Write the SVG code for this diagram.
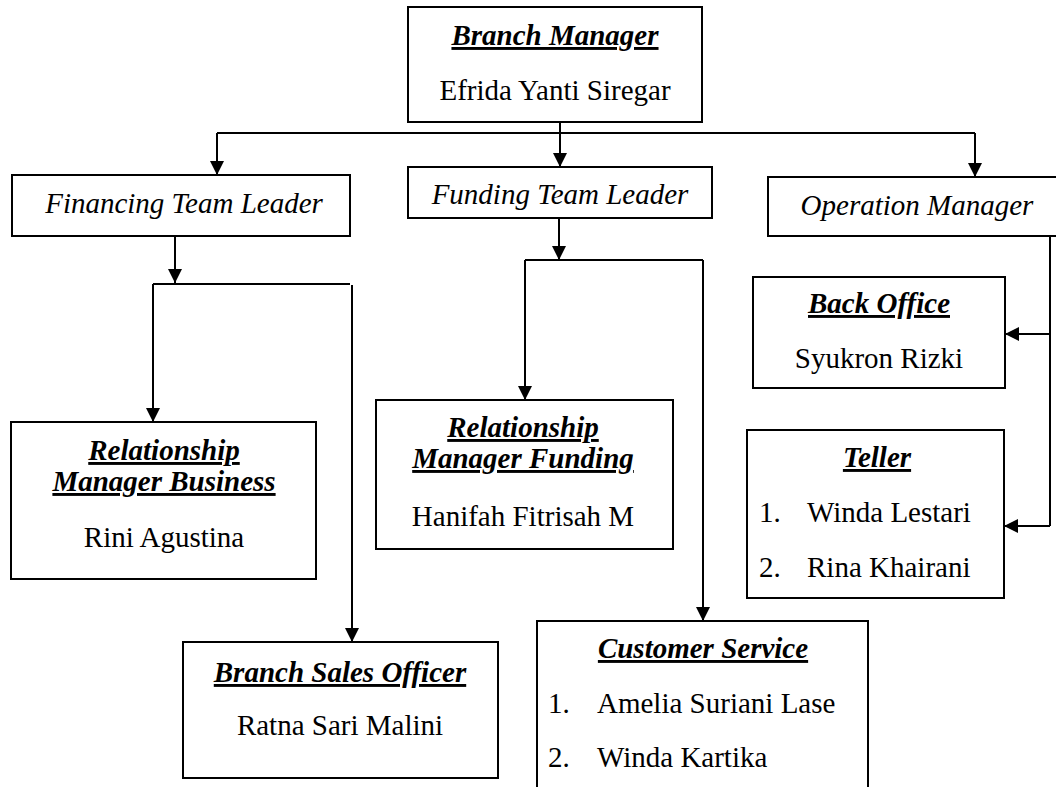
<svg xmlns="http://www.w3.org/2000/svg" width="1056" height="787" viewBox="0 0 1056 787">
<style>
.box{fill:#fff;stroke:#000;stroke-width:2}
text{font-family:"Liberation Serif","Times New Roman",serif;font-size:29px;fill:#000}
.c{text-anchor:middle}
.t{font-weight:bold;font-style:italic;text-decoration:underline}
.i{font-style:italic}
.ln{fill:none;stroke:#000;stroke-width:2}
</style>
<defs>
<marker id="ah" markerUnits="userSpaceOnUse" markerWidth="14" markerHeight="14" viewBox="0 0 14 14" refX="14" refY="7" orient="auto">
<path d="M0,0 L14,7 L0,14 Z" fill="#000"/>
</marker>
</defs>
<rect width="1056" height="787" fill="#fff"/>
<g id="connectors">
<path class="ln" d="M217,133 H975"/>
<path class="ln" d="M217,133 V175" marker-end="url(#ah)"/>
<path class="ln" d="M560,122 V167" marker-end="url(#ah)"/>
<path class="ln" d="M975,133 V177" marker-end="url(#ah)"/>
<path class="ln" d="M175,237 V283" marker-end="url(#ah)"/>
<path class="ln" d="M153,284 H350"/>
<path class="ln" d="M153,284 V422" marker-end="url(#ah)"/>
<path class="ln" d="M352,285 V642" marker-end="url(#ah)"/>
<path class="ln" d="M559,219 V260" marker-end="url(#ah)"/>
<path class="ln" d="M525,260 H703"/>
<path class="ln" d="M525,260 V400" marker-end="url(#ah)"/>
<path class="ln" d="M703,260 V621" marker-end="url(#ah)"/>
<path class="ln" d="M1050,237 V526"/>
<path class="ln" d="M1050,334 H1005" marker-end="url(#ah)"/>
<path class="ln" d="M1050,526 H1004" marker-end="url(#ah)"/>
</g>
<g id="branch-manager">
<rect class="box" x="408" y="7" width="294" height="115"/>
<text class="c t" x="555" y="45">Branch Manager</text>
<text class="c" x="555" y="100">Efrida Yanti Siregar</text>
</g>
<g id="financing-team-leader">
<rect class="box" x="12" y="175" width="338" height="61"/>
<text class="c i" x="184" y="213">Financing Team Leader</text>
</g>
<g id="funding-team-leader">
<rect class="box" x="408" y="167" width="304" height="51"/>
<text class="c i" x="560" y="204">Funding Team Leader</text>
</g>
<g id="operation-manager">
<rect class="box" x="768" y="177" width="292" height="59"/>
<text class="c i" x="917" y="215">Operation Manager</text>
</g>
<g id="rm-business">
<rect class="box" x="11" y="422" width="305" height="157"/>
<text class="c t" x="164" y="460">Relationship</text>
<text class="c t" x="164" y="491">Manager Business</text>
<text class="c" x="164" y="547">Rini Agustina</text>
</g>
<g id="branch-sales-officer">
<rect class="box" x="183" y="642" width="315" height="136"/>
<text class="c t" x="340" y="682">Branch Sales Officer</text>
<text class="c" x="340" y="735">Ratna Sari Malini</text>
</g>
<g id="rm-funding">
<rect class="box" x="376" y="400" width="297" height="149"/>
<text class="c t" x="523" y="437">Relationship</text>
<text class="c t" x="523" y="468">Manager Funding</text>
<text class="c" x="523" y="526">Hanifah Fitrisah M</text>
</g>
<g id="customer-service">
<rect class="box" x="537" y="621" width="331" height="180"/>
<text class="c t" x="703" y="658">Customer Service</text>
<text x="548" y="713">1.</text>
<text x="597" y="713">Amelia Suriani Lase</text>
<text x="548" y="767">2.</text>
<text x="597" y="767">Winda Kartika</text>
</g>
<g id="back-office">
<rect class="box" x="753" y="277" width="252" height="111"/>
<text class="c t" x="879" y="313">Back Office</text>
<text class="c" x="879" y="368">Syukron Rizki</text>
</g>
<g id="teller">
<rect class="box" x="747" y="430" width="257" height="168"/>
<text class="c t" x="877" y="467">Teller</text>
<text x="759" y="522">1.</text>
<text x="807" y="522">Winda Lestari</text>
<text x="759" y="577">2.</text>
<text x="807" y="577">Rina Khairani</text>
</g>
</svg>
